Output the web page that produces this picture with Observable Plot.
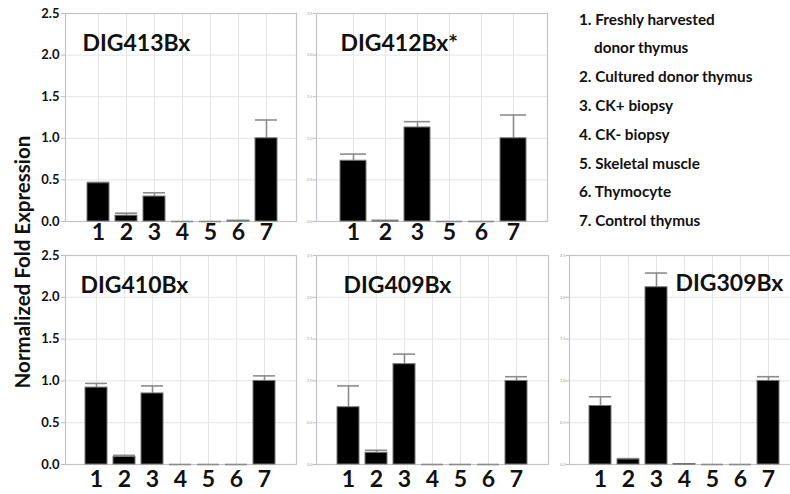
<!DOCTYPE html>
<html>
<head>
<meta charset="utf-8">
<script src="https://cdn.jsdelivr.net/npm/d3@7"></script>
<script src="https://cdn.jsdelivr.net/npm/@observablehq/plot@0.6"></script>
<style>
  html, body { margin: 0; padding: 0; background: #fff; }
  #wrap { position: relative; width: 790px; height: 494px; overflow: hidden; font-family: Lato, sans-serif; }
  .leg { position: absolute; left: 579px; font-weight: bold; font-size: 15.3px; color: #111; white-space: nowrap; line-height: 1; }
  #ylab { position: absolute; left: 22px; top: 262px; transform: translate(-50%, -50%) rotate(-90deg); font-weight: bold; font-size: 20.5px; white-space: nowrap; color: #111; line-height: 1; }
</style>
</head>
<body>
<div id="wrap"></div>
<script>
// ---- data ----
const cats7 = ["1", "2", "3", "4", "5", "6", "7"];
const cats412 = ["1", "2", "3", "5", "6", "7"];

const dig413Mean = [0.46, 0.07, 0.30, 0.0, 0.0, 0.01, 1.0];
const dig413Err  = [0.47, 0.10, 0.345, 0.0, 0.0, 0.01, 1.22];

const dig412Mean = [0.73, 0.01, 1.13, 0.0, 0.0, 1.0];
const dig412Err  = [0.81, 0.01, 1.20, 0.0, 0.0, 1.28];

const dig410Mean = [0.92, 0.09, 0.85, 0.0, 0.0, 0.0, 1.0];
const dig410Err  = [0.97, 0.11, 0.94, 0.0, 0.0, 0.0, 1.06];

const dig409Mean = [0.685, 0.14, 1.20, 0.0, 0.0, 0.0, 1.0];
const dig409Err  = [0.94, 0.17, 1.32, 0.0, 0.0, 0.0, 1.05];

const dig309Mean = [0.70, 0.06, 2.12, 0.005, 0.0, 0.0, 1.0];
const dig309Err  = [0.81, 0.07, 2.29, 0.005, 0.0, 0.0, 1.05];

const yTicks = [0, 0.5, 1.0, 1.5, 2.0, 2.5];
const titles = ["DIG413Bx", "DIG412Bx*", "DIG410Bx", "DIG409Bx", "DIG309Bx"];
const legendLines = [
  "1. Freshly harvested", "donor thymus", "2. Cultured donor thymus", "3. CK+ biopsy",
  "4. CK- biopsy", "5. Skeletal muscle", "6. Thymocyte", "7. Control thymus"
];
const yTitle = "Normalized Fold Expression";

// ---- panels ----
const panels = [
  {title: titles[0], cats: cats7,   mean: dig413Mean, err: dig413Err, left: 0,   top: 0,   w: 300, h: 250, ml: 65, mr: 4, mt: 13, mb: 29, big: true,  tdx: 17,  tdy: 21, align: 0.55, tp: 2},
  {title: titles[1], cats: cats412, mean: dig412Mean, err: dig412Err, left: 300, top: 0,   w: 250, h: 250, ml: 16, mr: 3, mt: 13, mb: 29, big: false, tdx: 24,  tdy: 21, align: 0.52, tp: 2},
  {title: titles[2], cats: cats7,   mean: dig410Mean, err: dig410Err, left: 0,   top: 240, w: 300, h: 254, ml: 65, mr: 4, mt: 15, mb: 30, big: true,  tdx: 15,  tdy: 21, align: 0.5, tp: 6},
  {title: titles[3], cats: cats7,   mean: dig409Mean, err: dig409Err, left: 300, top: 240, w: 250, h: 254, ml: 16, mr: 2, mt: 15, mb: 30, big: false, tdx: 27,  tdy: 21, align: 0.5, tp: 6},
  {title: titles[4], cats: cats7,   mean: dig309Mean, err: dig309Err, left: 550, top: 240, w: 254, h: 254, ml: 19, mr: 4, mt: 15, mb: 30, big: false, tdx: 106, tdy: 19, align: 0.5, tp: 6}
];

const wrap = document.getElementById("wrap");

for (const p of panels) {
  const rows = p.cats.map((c, i) => ({cat: c, mean: p.mean[i], err: p.err[i]}));
  const svg = Plot.plot({
    width: p.w, height: p.h,
    marginLeft: p.ml, marginRight: p.mr, marginTop: p.mt, marginBottom: p.mb,
    style: {fontFamily: "Lato, sans-serif", background: "transparent", overflow: "visible"},
    x: {domain: p.cats, paddingInner: 0.2, paddingOuter: 0.62, align: p.align, label: null},
    y: {domain: [0, 2.5], label: null},
    marks: [
      Plot.gridY(yTicks.slice(1, -1), {stroke: "#e4e4e4", strokeOpacity: 1}),
      Plot.gridX({stroke: "#e4e4e4", strokeOpacity: 1}),
      Plot.frame({stroke: "#c4c4c4", strokeWidth: 1.2}),
      Plot.ruleX(rows, {x: "cat", y1: "mean", y2: "err", stroke: "#8c8c8c", strokeWidth: 1.6}),
      Plot.tickY(rows, {x: "cat", y: "err", stroke: "#8c8c8c", strokeWidth: 1.6}),
      Plot.barY(rows, {x: "cat", y: "mean", fill: "#000", stroke: "#777", strokeWidth: 1}),
      p.big
        ? Plot.axisY(yTicks, {tickSize: 4, tickPadding: 2, stroke: "#bbb", fill: "#111", fontSize: 13, fontWeight: "bold", tickFormat: d3.format(".1f"), label: null})
        : Plot.axisY(yTicks, {tickSize: 3, tickPadding: 1, stroke: "#bbb", fill: "#999", fontSize: 4, tickFormat: d3.format(".1f"), label: null}),
      Plot.axisX({tickSize: 0, tickPadding: p.tp, fill: "#111", fontSize: 23, fontWeight: "bold", label: null}),
      Plot.text([p.title], {frameAnchor: "top-left", dx: p.tdx, dy: p.tdy, lineAnchor: "top", textAnchor: "start", fontSize: 23, fontWeight: "bold", fill: "#111"})
    ]
  });
  svg.style.left = p.left + "px";
  svg.style.top = p.top + "px";
  svg.style.position = "absolute";
  wrap.appendChild(svg);
}

// legend (text block, top right)
legendLines.forEach((t, i) => {
  const d = document.createElement("div");
  d.className = "leg";
  d.textContent = t;
  d.style.top = (20 + i * 28.8 - 8.5) + "px";
  if (i === 1) d.style.left = "594px";
  wrap.appendChild(d);
});

// shared y-axis title
const yl = document.createElement("div");
yl.id = "ylab";
yl.textContent = yTitle;
wrap.appendChild(yl);
</script>
</body>
</html>
